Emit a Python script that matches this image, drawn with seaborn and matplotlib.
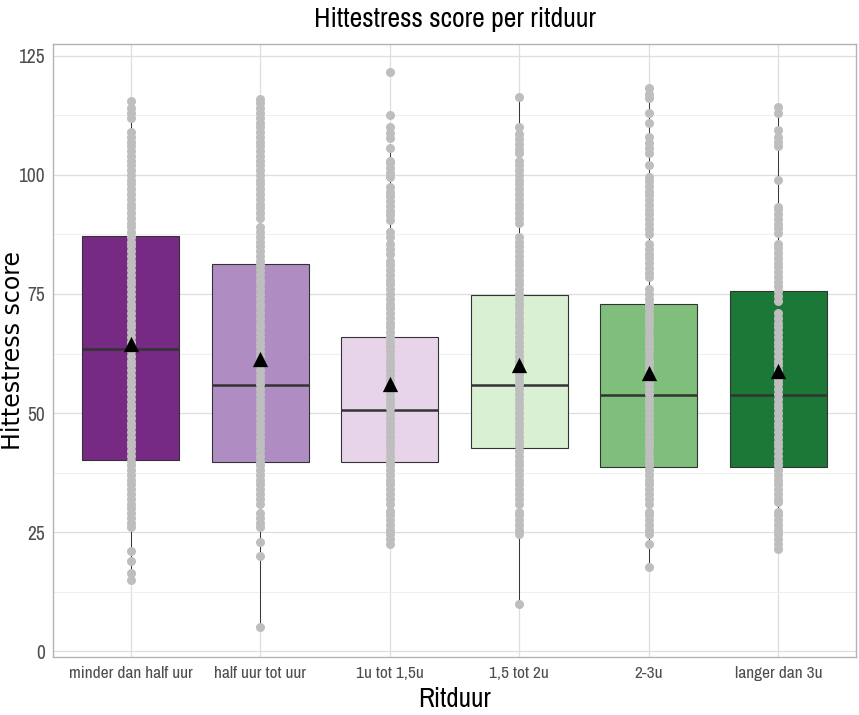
import matplotlib
matplotlib.use("Agg")
import matplotlib.pyplot as plt
import numpy as np
import pandas as pd
import seaborn as sns

# Categories and colours
ritduur = ["minder dan half uur", "half uur tot uur", "1u tot 1,5u",
           "1,5 tot 2u", "2-3u", "langer dan 3u"]
box_colors = ["#762a83", "#af8dc3", "#e7d4e8", "#d9f0d3", "#7fbf7b", "#1b7837"]

# Box statistics
q1 = [40.1, 39.7, 39.7, 42.6, 38.6, 38.6]
median = [63.5, 55.9, 50.6, 55.9, 53.8, 53.8]
q3 = [87.1, 81.4, 66.0, 74.7, 72.8, 75.7]
whisker_lo = [15, 5, 22.5, 10, 17.7, 21.5]
whisker_hi = [115.5, 116, 105.7, 116.4, 118.3, 114.3]
means = [64.4, 61.3, 56.0, 60.1, 58.5, 58.8]

# Individual scores per group
scores_1 = [15, 16.5, 19, 21, 26, 27, 28, 29,
            30, 31, 32, 33, 34, 35, 36, 37, 38, 39,
            40, 41, 42, 43, 44, 45, 46, 47, 48, 49,
            50, 51, 52, 53, 54, 55, 56, 57, 58, 59,
            60, 61, 62, 63, 64, 65, 66, 67, 68, 69,
            70, 71, 72, 73, 74, 75, 76, 77, 78, 79,
            80, 81, 82, 83, 84, 85, 86, 87, 88, 89,
            90, 91, 92, 93, 94, 95, 96, 97, 98, 99,
            100, 101, 102, 103, 104, 105, 106, 107, 108, 109,
            112, 113, 114, 115.5]
scores_2 = [5, 20, 23, 26, 27, 28, 29,
            31, 32, 33, 34, 35, 36, 37, 38, 39,
            40, 41, 42, 43, 44, 45, 46, 47, 48, 49,
            50, 51, 52, 53, 54, 55, 56, 57, 58, 59,
            60, 61, 62, 63, 64, 65, 66, 67, 68, 69,
            70, 71, 72, 73, 74, 75, 76, 77, 78, 79,
            80, 81, 82, 83, 84, 85, 86, 87, 88, 89,
            91, 92, 93, 94, 95, 96, 97, 98, 99,
            100, 101, 102, 103, 104, 105, 106, 107, 108, 109,
            110, 111, 112, 113, 114, 115, 116]
scores_3 = [22.5, 23.5, 24.5, 25.5, 26.5, 27.5, 28.5, 29.5,
            31, 32, 33, 34, 35, 36, 37, 38, 39,
            40, 41, 42, 43, 44, 45, 46, 47, 48, 49,
            50, 51, 52, 53, 54, 55, 56, 57, 58, 59,
            60, 61, 62, 63, 64, 65, 66, 67, 68, 69,
            70, 71, 72, 73, 74, 75, 76, 77, 78, 79,
            80, 81, 82, 83.5, 84.5, 85.5, 87, 88,
            90.5, 91.5, 92.5, 93.5, 94.5, 95.5, 96.5, 97.5,
            99.5, 100.5, 101.5, 102.5, 103, 105.7,
            107.8, 108.8, 110, 112.6, 121.6]
scores_4 = [10, 24.7, 25.5, 26.5, 27.5, 28.5, 29.3,
            31, 32, 33, 34, 35, 36, 37, 38, 39,
            40, 41, 42, 43, 44, 45, 46, 47, 48, 49,
            50, 51, 52, 53, 54, 55, 56, 57, 58, 59,
            60, 61, 62, 63, 64, 65, 66, 67, 68, 69,
            70, 71, 72, 73, 74, 75, 76, 77, 78, 79,
            80, 81, 82, 83, 84, 85, 86, 87,
            90, 91, 92, 93, 94, 95, 96, 97, 98, 99,
            100, 101, 102, 103, 104.5, 105.5, 106.5, 107.5, 108.5, 110,
            116.4]
scores_5 = [17.7, 22.6, 24.5, 25.5, 26.5, 27.5, 28.5, 29.3,
            31, 32, 33, 34, 35, 36, 37, 38, 39,
            40, 41, 42, 43, 44, 45, 46, 47, 48, 49,
            50, 51, 52, 53, 54, 55, 56, 57, 58, 59,
            60, 61, 62, 63, 64, 65, 66, 67, 68, 69,
            70, 71, 72, 73, 74, 75, 76,
            78.5, 79.5, 80.5, 81.5, 82.5, 83.5, 84.5, 85.6,
            87.7, 88.7, 89.7, 90.7, 91.7, 92.7, 93.7, 94.7, 95.7, 96.7,
            97.7, 98.7, 99.6, 102, 104.6, 105.6, 106.6, 108,
            111, 113, 116.2, 117, 118.3]
scores_6 = [21.5, 22.5, 23.5, 24.5, 25.5, 26.5, 27.5, 28.5, 29.3,
            31.4, 32, 33, 34, 35, 36, 37, 38, 39,
            40, 41, 42, 43, 44, 45, 46, 47, 48, 49,
            50, 51, 52, 53, 54, 55, 56, 57, 58, 59,
            60, 61, 62, 63, 64, 65, 66, 67, 68, 69,
            70, 71, 73.6, 74.6, 75.6, 76.6, 77.6, 78.6, 79.6,
            80.6, 81.6, 82.6, 83.6, 84.6, 85.6,
            87.8, 88.8, 89.8, 90.8, 91.8, 92.8, 93.3,
            99, 106, 107, 108, 109.5, 113, 114.3]
all_scores = [scores_1, scores_2, scores_3, scores_4, scores_5, scores_6]

points_df = pd.DataFrame({
    "Ritduur": np.repeat(ritduur, [len(s) for s in all_scores]),
    "score": np.concatenate(all_scores),
})
means_df = pd.DataFrame({"Ritduur": ritduur, "score": means})

narrow = ["Arial Narrow", "Liberation Sans Narrow", "Archivo Narrow",
          "PT Sans Narrow", "Roboto Condensed", "DejaVu Sans"]

sns.set_theme(style="whitegrid")
plt.rcParams["font.family"] = narrow

fig, ax = plt.subplots(figsize=(8.59, 7.15), dpi=100)
fig.subplots_adjust(left=0.062, right=0.9965, top=0.9385, bottom=0.081)

# Boxes from the summary statistics
stats = []
for i in range(len(ritduur)):
    stats.append({"med": median[i], "q1": q1[i], "q3": q3[i],
                  "whislo": whisker_lo[i], "whishi": whisker_hi[i],
                  "fliers": []})
bp = ax.bxp(stats, positions=range(len(ritduur)), widths=0.75,
            patch_artist=True, showcaps=False, showfliers=False,
            boxprops={"edgecolor": "#333333", "linewidth": 0.8},
            medianprops={"color": "#333333", "linewidth": 1.8},
            whiskerprops={"color": "#333333", "linewidth": 0.7},
            zorder=2)
for patch, color in zip(bp["boxes"], box_colors):
    patch.set_facecolor(color)

# Individual points and group means
sns.stripplot(data=points_df, x="Ritduur", y="score", order=ritduur,
              jitter=False, color="#bebebe", size=6.5, linewidth=0,
              zorder=3, ax=ax)
sns.stripplot(data=means_df, x="Ritduur", y="score", order=ritduur,
              jitter=False, color="black", marker="^", size=11,
              linewidth=0, zorder=4, ax=ax)

# Axes and grid in ggplot light style
ax.set_xlim(-0.6, 5.6)
ax.set_ylim(-1.25, 127.5)
ax.set_yticks([0, 25, 50, 75, 100, 125])
ax.set_yticks([12.5, 37.5, 62.5, 87.5, 112.5], minor=True)
ax.grid(which="major", color="#dedede", linewidth=0.9)
ax.grid(which="minor", axis="y", color="#ececec", linewidth=0.6)
ax.set_axisbelow(True)
for spine in ax.spines.values():
    spine.set_color("#b3b3b3")
    spine.set_linewidth(1.0)
ax.tick_params(axis="both", which="major", length=3.5, width=0.8,
               color="#b3b3b3", labelcolor="#4d4d4d", pad=2.5)
ax.tick_params(axis="x", which="major", labelsize=12.5, pad=3)
ax.tick_params(axis="y", which="major", labelsize=14)
ax.tick_params(axis="y", which="minor", length=0)
ax.set_xticks(range(len(ritduur)))
ax.set_xticklabels(ritduur)

ax.set_title("Hittestress score per ritduur", fontsize=20, pad=12,
             color="black")
ax.set_xlabel("Ritduur", fontsize=19.5, labelpad=4, color="black")
ax.set_ylabel("Hittestress score", fontsize=17,
              family=["DejaVu Sans"], color="black")
ax.yaxis.set_label_coords(-0.035, 0.5)

plt.savefig("out.png", dpi=100)
